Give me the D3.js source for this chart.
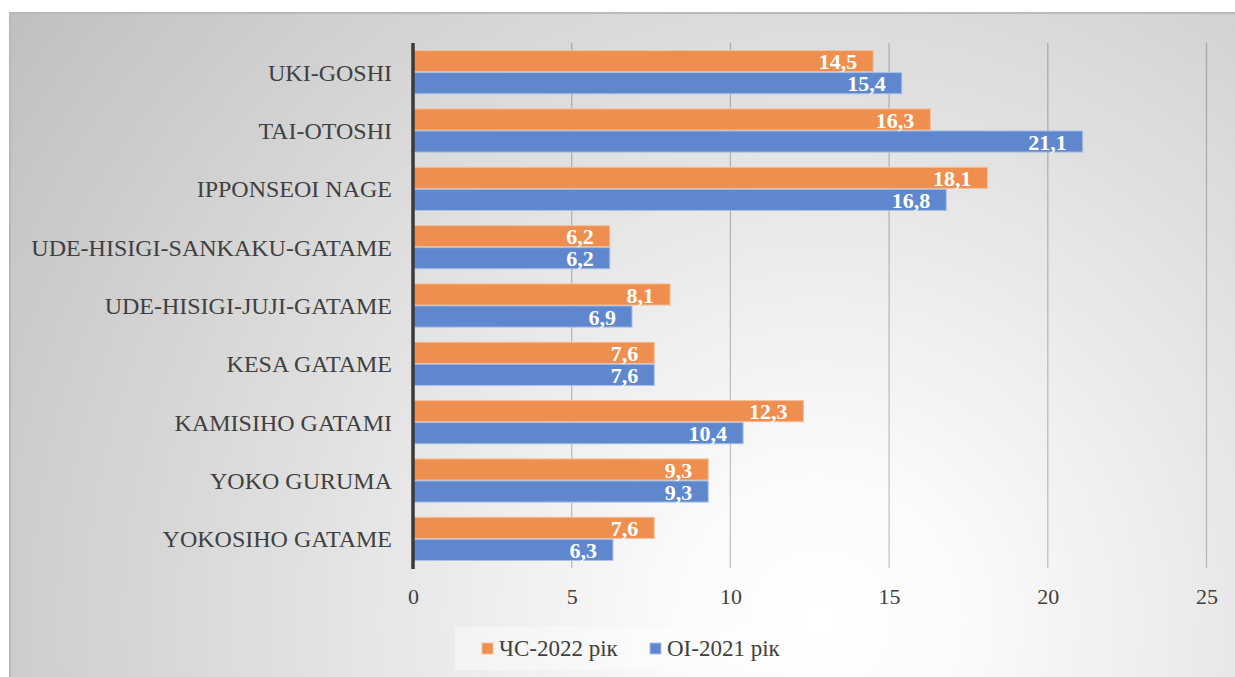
<!DOCTYPE html>
<html>
<head>
<meta charset="utf-8">
<script src="https://cdn.jsdelivr.net/npm/d3@7"></script>
<style>
  body { margin: 0; background: #fff; }
  svg { display: block; }
</style>
</head>
<body>
<div id="chart"></div>
<script>
// categories, top to bottom
var categories = ["UKI-GOSHI", "TAI-OTOSHI", "IPPONSEOI NAGE", "UDE-HISIGI-SANKAKU-GATAME",
  "UDE-HISIGI-JUJI-GATAME", "KESA GATAME", "KAMISIHO GATAMI", "YOKO GURUMA", "YOKOSIHO GATAME"];
var seriesNames = ["ЧС-2022 рік", "OI-2021 рік"];
var valuesCS2022 = [14.5, 16.3, 18.1, 6.2, 8.1, 7.6, 12.3, 9.3, 7.6];
var valuesOI2021 = [15.4, 21.1, 16.8, 6.2, 6.9, 7.6, 10.4, 9.3, 6.3];
var xTicks = [0, 5, 10, 15, 20, 25];

var W = 1235, H = 677;
var colors = ["#ee8f4f", "#5e87cd"];
var strokes = ["#f6c09a", "#a9bfe6"];
var FONT = "Liberation Serif, Times New Roman, serif";

var svg = d3.select("#chart").append("svg").attr("width", W).attr("height", H);

// background
var defs = svg.append("defs");
var grad = defs.append("radialGradient").attr("id", "bg")
  .attr("gradientUnits", "userSpaceOnUse")
  .attr("cx", 820).attr("cy", 620).attr("r", 1000);
grad.append("stop").attr("offset", "0").attr("stop-color", "#ffffff");
grad.append("stop").attr("offset", "0.15").attr("stop-color", "#fafafa");
grad.append("stop").attr("offset", "1").attr("stop-color", "#c0c0c0");

svg.append("rect").attr("x", 10).attr("y", 13).attr("width", W).attr("height", H)
  .attr("fill", "url(#bg)").attr("stroke", "#b9b9b9").attr("stroke-width", 2);

var x = d3.scaleLinear().domain([0, 25]).range([413, 1206.5]);
var y = d3.scaleBand().domain(categories).range([43, 568]).paddingInner(0.26).paddingOuter(0.13);
var ySub = d3.scaleBand().domain(seriesNames).range([0, y.bandwidth()]).paddingInner(0.04);

// gridlines
svg.append("g").selectAll("line").data(xTicks.slice(1)).join("line")
  .attr("x1", d => x(d)).attr("x2", d => x(d))
  .attr("y1", 43).attr("y2", 568)
  .attr("stroke", "#000").attr("stroke-opacity", 0.22).attr("stroke-width", 1.3);

// x tick labels
var xAxis = svg.append("g").attr("transform", "translate(0,568)")
  .call(d3.axisBottom(x).tickValues(xTicks).tickSize(0).tickPadding(20));
xAxis.select(".domain").remove();
xAxis.selectAll("text").attr("font-family", FONT).attr("font-size", 22).attr("fill", "#404040");

// category labels
var yAxis = svg.append("g").attr("transform", "translate(392,0)")
  .call(d3.axisLeft(y).tickSize(0).tickPadding(0));
yAxis.select(".domain").remove();
yAxis.selectAll("text").attr("font-family", FONT).attr("font-size", 24).attr("fill", "#404040")
  .attr("dy", "0.35em");

// bars
var rows = categories.map(function (c, i) {
  return { cat: c, vals: [valuesCS2022[i], valuesOI2021[i]] };
});
var groups = svg.append("g").selectAll("g").data(rows).join("g")
  .attr("transform", d => "translate(0," + y(d.cat) + ")");

groups.selectAll("rect").data(d => d.vals.map((v, k) => ({ v: v, k: k }))).join("rect")
  .attr("x", x(0))
  .attr("y", d => ySub(seriesNames[d.k]))
  .attr("width", d => x(d.v) - x(0))
  .attr("height", ySub.bandwidth())
  .attr("fill", d => colors[d.k])
  .attr("stroke", d => strokes[d.k]).attr("stroke-width", 1);

groups.selectAll("text").data(d => d.vals.map((v, k) => ({ v: v, k: k }))).join("text")
  .attr("x", d => x(d.v) - 16)
  .attr("y", d => ySub(seriesNames[d.k]) + ySub.bandwidth() - 2.5)
  .attr("text-anchor", "end")
  .attr("font-family", FONT).attr("font-weight", "bold").attr("font-size", 22)
  .attr("fill", "#fff")
  .text(d => d3.format(".1f")(d.v).replace(".", ","));

// y axis line
svg.append("line").attr("x1", x(0)).attr("x2", x(0)).attr("y1", 43).attr("y2", 569)
  .attr("stroke", "#3a3a3a").attr("stroke-width", 3.5);

// legend
var lg = svg.append("g");
lg.append("rect").attr("x", 455).attr("y", 627).attr("width", 348).attr("height", 43)
  .attr("fill", "#fff").attr("fill-opacity", 0.4);
var legX = [482, 650];
seriesNames.forEach(function (s, k) {
  lg.append("rect").attr("x", legX[k]).attr("y", 643).attr("width", 11).attr("height", 11)
    .attr("fill", colors[k]).attr("stroke", strokes[k]).attr("stroke-width", 1);
  lg.append("text").attr("x", legX[k] + 17).attr("y", 656)
    .attr("font-family", FONT).attr("font-size", 23).attr("fill", "#404040")
    .text(s);
});
</script>
</body>
</html>
